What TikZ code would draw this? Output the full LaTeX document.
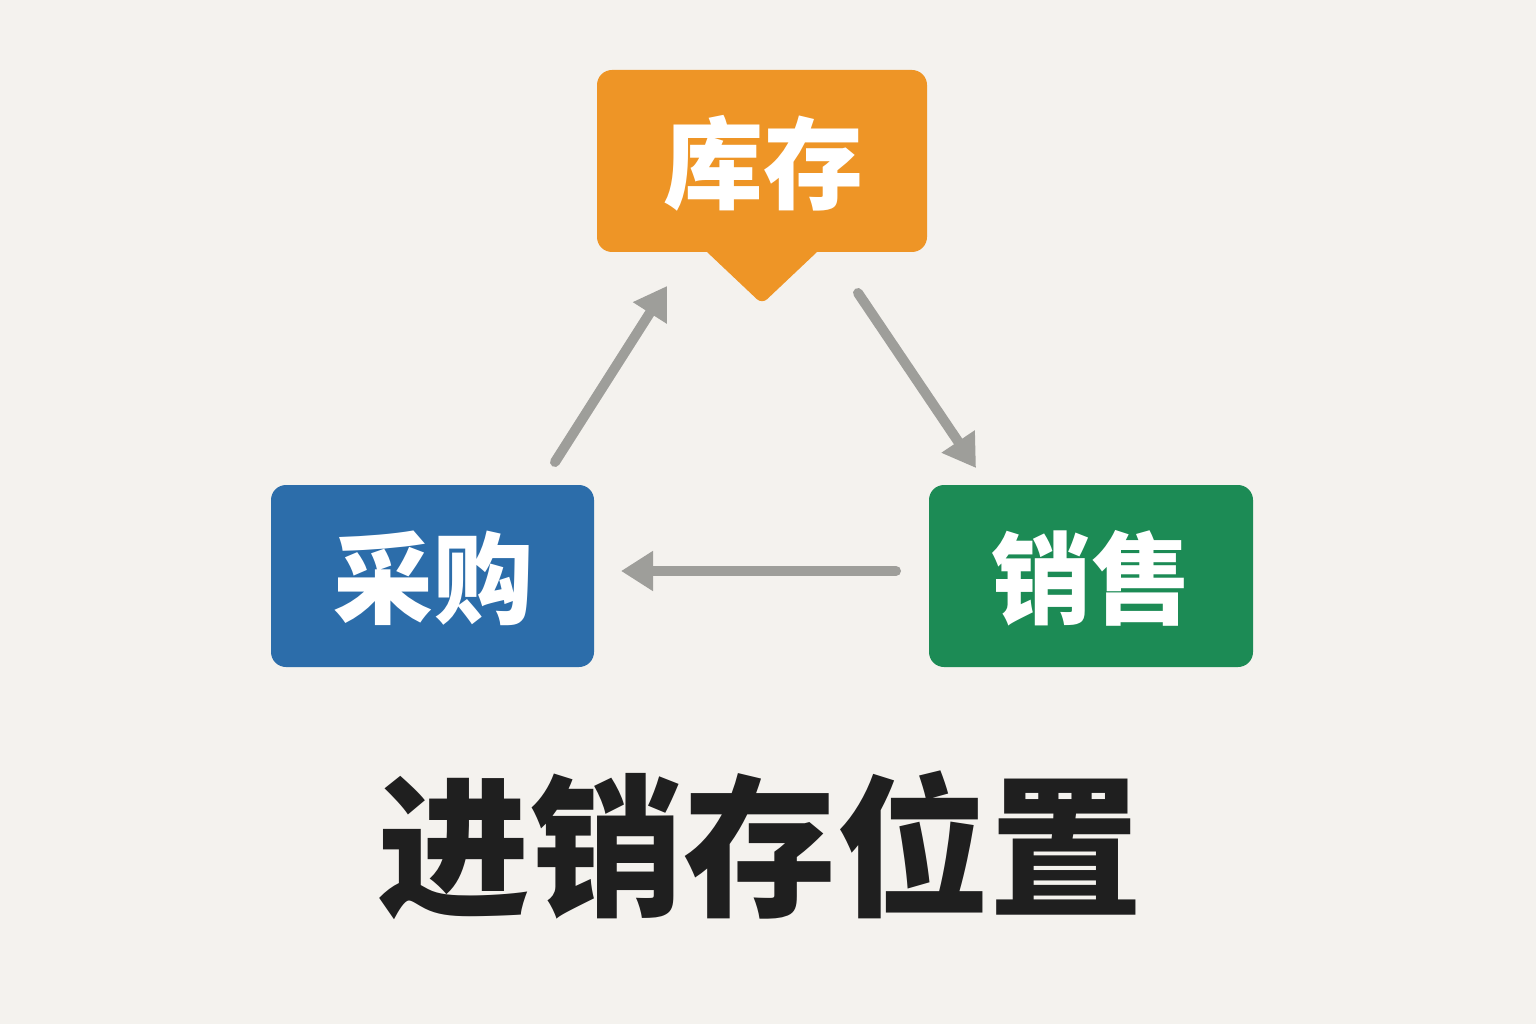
\documentclass[tikz,border=0pt]{standalone}
\usepackage{fontspec}
\newfontfamily\cjk{Noto Sans CJK SC}
\usetikzlibrary{arrows.meta}
\definecolor{bg}{HTML}{F4F2EE}
\definecolor{orng}{HTML}{EE9526}
\definecolor{blu}{HTML}{2C6DAA}
\definecolor{grn}{HTML}{1C8B55}
\definecolor{arr}{HTML}{9E9E9A}
\definecolor{ttl}{HTML}{1F1F1F}
\tikzset{
  lbl/.style={text=white, font=\cjk\bfseries\fontsize{100}{100}\selectfont},
  flow/.style={draw=arr, line width=10pt, line cap=round, -{Triangle[length=32pt,width=38pt]}}
}
\begin{document}
\begin{tikzpicture}[x=1pt,y=-1pt]
\useasboundingbox (0,0) rectangle (1536,1024);
\fill[bg] (0,0) rectangle (1536,1024);
% orange box with pointer
\fill[orng, rounded corners=15pt] (597,70) rectangle (927,252);
\fill[orng] (707,240) -- (707,252) [rounded corners=7pt] -- (762,304) [sharp corners] -- (817,252) -- (817,240) -- cycle;
\node[lbl] (kucun) at (763,163) {库存};
% blue box
\fill[blu, rounded corners=15pt] (271,485) rectangle (594,667);
\node[lbl] (caigou) at (433,578) {采购};
% green box
\fill[grn, rounded corners=15pt] (929,485) rectangle (1253,667);
\node[lbl] (xiaoshou) at (1091,578) {销售};
% arrows
\coordinate (a1s) at (555,462);
\coordinate (a1e) at (667,286);
\coordinate (a2s) at (858,293);
\coordinate (a2e) at (976,468);
\coordinate (a3s) at (896,571);
\coordinate (a3e) at (621,571);
\draw[flow] (a1s) -- (a1e);
\draw[flow] (a2s) -- (a2e);
\draw[flow] (a3s) -- (a3e);
% title
\node[text=ttl, font=\cjk\bfseries\fontsize{153}{153}\selectfont] (title) at (760,845) {进销存位置};
\end{tikzpicture}
\end{document}
